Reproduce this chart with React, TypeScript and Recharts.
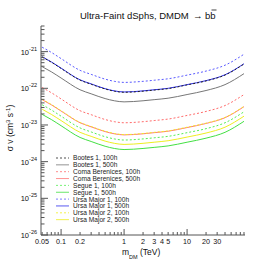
import React from "react";
import { LineChart, Line, XAxis, YAxis } from "recharts";

// Dark-matter mass (TeV)
const masses = [0.05, 0.07, 0.1, 0.2, 0.3, 0.5, 0.7, 1, 2, 3, 5, 10, 20, 40, 80];

// <sigma v> upper limits (cm^3 s^-1)
const bootes100h = [7.1e-22, 5.15e-22, 3.48e-22, 1.67e-22, 1.29e-22, 9.6e-23, 8.35e-23, 7.8e-23, 8.35e-23, 8.95e-23, 9.8e-23, 1.24e-22, 1.59e-22, 2.3e-22, 4.6e-22];
const bootes500h = [3.89e-22, 2.82e-22, 1.91e-22, 9.12e-23, 7.08e-23, 5.25e-23, 4.57e-23, 4.27e-23, 4.57e-23, 4.9e-23, 5.37e-23, 6.76e-23, 8.71e-23, 1.26e-22, 2.51e-22];
const coma100h = [1.05e-22, 7.59e-23, 5.13e-23, 2.45e-23, 1.91e-23, 1.41e-23, 1.23e-23, 1.15e-23, 1.23e-23, 1.32e-23, 1.45e-23, 1.82e-23, 2.34e-23, 3.39e-23, 6.76e-23];
const coma500h = [4.9e-23, 3.55e-23, 2.4e-23, 1.15e-23, 8.91e-24, 6.61e-24, 5.75e-24, 5.37e-24, 5.75e-24, 6.17e-24, 6.76e-24, 8.51e-24, 1.1e-23, 1.58e-23, 3.16e-23];
const segue100h = [3.55e-23, 2.57e-23, 1.74e-23, 8.32e-24, 6.46e-24, 4.79e-24, 4.17e-24, 3.89e-24, 4.17e-24, 4.47e-24, 4.9e-24, 6.17e-24, 7.94e-24, 1.15e-23, 2.29e-23];
const segue500h = [1.95e-23, 1.41e-23, 9.55e-24, 4.57e-24, 3.55e-24, 2.63e-24, 2.29e-24, 2.14e-24, 2.29e-24, 2.45e-24, 2.69e-24, 3.39e-24, 4.37e-24, 6.31e-24, 1.26e-23];
const ursa1100h = [1.32e-21, 9.55e-22, 6.46e-22, 3.09e-22, 2.4e-22, 1.78e-22, 1.55e-22, 1.45e-22, 1.55e-22, 1.66e-22, 1.82e-22, 2.29e-22, 2.95e-22, 4.27e-22, 8.51e-22];
const ursa1500h = [7.24e-22, 5.25e-22, 3.55e-22, 1.7e-22, 1.32e-22, 9.77e-23, 8.51e-23, 7.94e-23, 8.51e-23, 9.12e-23, 1.0e-22, 1.26e-22, 1.62e-22, 2.34e-22, 4.68e-22];
const ursa2100h = [5.0e-23, 3.62e-23, 2.45e-23, 1.17e-23, 9.1e-24, 6.75e-24, 5.85e-24, 5.48e-24, 5.85e-24, 6.3e-24, 6.9e-24, 8.7e-24, 1.12e-23, 1.61e-23, 3.22e-23];
const ursa2500h = [2.69e-23, 1.95e-23, 1.32e-23, 6.31e-24, 4.9e-24, 3.63e-24, 3.16e-24, 2.95e-24, 3.16e-24, 3.39e-24, 3.72e-24, 4.68e-24, 6.03e-24, 8.71e-24, 1.74e-23];

// axis ticks
const xTicks = [0.05, 0.06, 0.07, 0.08, 0.09, 0.1, 0.2, 0.3, 0.4, 0.5, 0.6, 0.7, 0.8, 0.9, 1, 2, 3, 4, 5, 6, 7, 8, 9, 10, 20, 30, 40, 50, 60, 70, 80];
const xMajor = [0.1, 1, 10];
const xLabels = ["0.05", "0.1", "0.2", "1", "2", "3", "4", "5", "10", "20", "30"];
const yExponents = [-26, -25, -24, -23, -22, -21];
const yMantissas = [1, 2, 3, 4, 5, 6, 7, 8, 9];

const yTicks: number[] = [];
yExponents.forEach((e) => {
  yMantissas.forEach((m) => {
    const v = Number(`${m}e${e}`);
    if (v <= 5e-21) yTicks.push(v);
  });
});

const series = [
  { key: "bootes100h", name: "Bootes 1, 100h", values: bootes100h, color: "#222222", dash: "2 2" },
  { key: "bootes500h", name: "Bootes 1, 500h", values: bootes500h, color: "#777777", dash: undefined },
  { key: "coma100h", name: "Coma Berenices, 100h", values: coma100h, color: "#ff6b6b", dash: "2 2" },
  { key: "coma500h", name: "Coma Berenices, 500h", values: coma500h, color: "#ff7777", dash: undefined },
  { key: "segue100h", name: "Segue 1, 100h", values: segue100h, color: "#55ee55", dash: "2 2" },
  { key: "segue500h", name: "Segue 1, 500h", values: segue500h, color: "#44e044", dash: undefined },
  { key: "ursa1100h", name: "Ursa Major 1, 100h", values: ursa1100h, color: "#5a5aff", dash: "2 2" },
  { key: "ursa1500h", name: "Ursa Major 1, 500h", values: ursa1500h, color: "#3030ee", dash: undefined },
  { key: "ursa2100h", name: "Ursa Major 2, 100h", values: ursa2100h, color: "#f0f020", dash: "2 2" },
  { key: "ursa2500h", name: "Ursa Major 2, 500h", values: ursa2500h, color: "#eeee22", dash: undefined },
];

// draw order (later on top)
const drawOrder = ["bootes500h", "ursa1500h", "bootes100h", "ursa1100h", "coma100h", "coma500h", "ursa2100h", "segue100h", "ursa2500h", "segue500h"];

const data = masses.map((m, i) => {
  const row: Record<string, number> = { m };
  series.forEach((s) => {
    row[s.key] = s.values[i];
  });
  return row;
});

const AXIS = "#555555";
const FONT = "'Liberation Sans', Arial, Helvetica, sans-serif";

const fmtX = (v: number) => String(v);

const XTick = (props: any) => {
  const { x, y, payload } = props;
  const v = payload.value as number;
  const major = xMajor.some((t) => Math.abs(t - v) < 1e-9);
  const label = xLabels.includes(fmtX(v));
  return (
    <g>
      <line x1={x} x2={x} y1={y} y2={y - (major ? 6 : 3)} stroke={AXIS} strokeWidth={1} />
      {label && (
        <text x={x} y={y + 8.5} textAnchor="middle" fontSize={7.2} fontFamily={FONT} fill="#111">
          {fmtX(v)}
        </text>
      )}
    </g>
  );
};

const YTick = (props: any) => {
  const { x, y, payload } = props;
  const v = payload.value as number;
  const lg = Math.log10(v);
  const major = Math.abs(lg - Math.round(lg)) < 1e-6;
  return (
    <g>
      <line x1={x} x2={x + (major ? 7 : 3.5)} y1={y} y2={y} stroke={AXIS} strokeWidth={1} />
      {major && (
        <text x={x - 4} y={y + 3} textAnchor="end" fontSize={7.5} fontFamily={FONT} fill="#111">
          10
          <tspan dy={-4} fontSize={5.5}>
            {String(Math.round(lg))}
          </tspan>
        </text>
      )}
    </g>
  );
};

export default function App() {
  const legendTop = 158;
  const legendStep = 6.85;
  return (
    <div style={{ position: "absolute", left: 0, top: 0, width: 272, height: 262, background: "#fff" }}>
      <LineChart width={272} height={262} data={data} margin={{ top: 26, right: 27, bottom: 7, left: 6 }}>
        <XAxis
          dataKey="m"
          type="number"
          scale="log"
          domain={[0.048, 83]}
          ticks={xTicks}
          interval={0}
          tick={<XTick />}
          tickLine={false}
          tickSize={0}
          tickMargin={0}
          height={20}
          allowDataOverflow
          axisLine={{ stroke: AXIS }}
        />
        <XAxis
          xAxisId="top"
          orientation="top"
          dataKey="m"
          type="number"
          scale="log"
          domain={[0.048, 83]}
          tick={false}
          tickLine={false}
          height={0}
          allowDataOverflow
          axisLine={{ stroke: AXIS }}
        />
        <YAxis
          type="number"
          scale="log"
          domain={[1e-26, 5e-21]}
          ticks={yTicks}
          interval={0}
          tick={<YTick />}
          tickLine={false}
          tickSize={0}
          tickMargin={0}
          width={35}
          allowDataOverflow
          axisLine={{ stroke: AXIS }}
        />
        <YAxis
          yAxisId="right"
          orientation="right"
          type="number"
          scale="log"
          domain={[1e-26, 5e-21]}
          tick={false}
          tickLine={false}
          width={0}
          allowDataOverflow
          axisLine={{ stroke: AXIS }}
        />
        {drawOrder.map((k) => {
          const s = series.find((q) => q.key === k)!;
          return (
            <Line
              key={k}
              dataKey={k}
              type="monotone"
              stroke={s.color}
              strokeWidth={1}
              strokeDasharray={s.dash}
              dot={false}
              activeDot={false}
              isAnimationActive={false}
            />
          );
        })}
      </LineChart>
      <svg width={272} height={262} style={{ position: "absolute", left: 0, top: 0, pointerEvents: "none" }}>
        <text x={80} y={18.5} fontSize={9.5} fontFamily={FONT} fill="#111">
          Ultra-Faint dSphs, DMDM
        </text>
        <text x={193} y={18.5} fontSize={9.5} fontFamily={FONT} fill="#111">
          →
        </text>
        <text x={205} y={18.5} fontSize={9.5} fontFamily={FONT} fill="#111">
          bb
        </text>
        <line x1={211.5} x2={216.5} y1={10} y2={10} stroke="#111" strokeWidth={0.8} />
        <text
          transform="translate(13,128) rotate(-90)"
          textAnchor="middle"
          fontSize={8.5}
          fontFamily={FONT}
          fill="#111"
        >
          σ v (cm
          <tspan dy={-3.5} fontSize={6}>3</tspan>
          <tspan dy={3.5}> s</tspan>
          <tspan dy={-3.5} fontSize={6}>-1</tspan>
          <tspan dy={3.5}>)</tspan>
        </text>
        <text x={122} y={255} fontSize={8.5} fontFamily={FONT} fill="#111">
          m
          <tspan dy={3.5} fontSize={5.5}>DM</tspan>
          <tspan dy={-3.5}> (TeV)</tspan>
        </text>
        {series.map((s, i) => {
          const cy = legendTop + i * legendStep;
          return (
            <g key={s.key}>
              <line x1={56} x2={69} y1={cy} y2={cy} stroke={s.color} strokeWidth={0.8} strokeDasharray={s.dash} />
              <text x={73} y={cy + 2.4} fontSize={6.6} fontFamily={FONT} fill="#222">
                {s.name}
              </text>
            </g>
          );
        })}
      </svg>
    </div>
  );
}
